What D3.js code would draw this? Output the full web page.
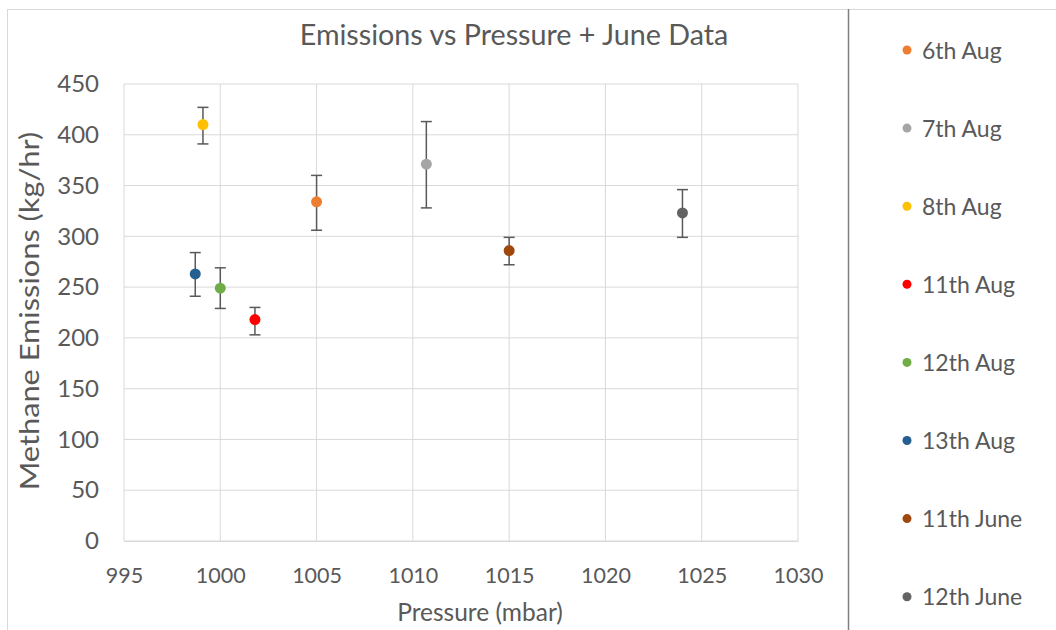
<!DOCTYPE html>
<html><head><meta charset="utf-8">
<script src="https://cdn.jsdelivr.net/npm/d3@7"></script>
<style>body{margin:0;background:#fff;}svg{display:block;font-family:Lato,"Open Sans",sans-serif;}</style>
</head><body>
<svg id="c" width="1056" height="630"></svg>
<script>
const series = ["6th Aug","7th Aug","8th Aug","11th Aug","12th Aug","13th Aug","11th June","12th June"];
const pressure = [1005.0, 1010.7, 999.1, 1001.8, 1000.0, 998.7, 1015.0, 1024.0];
const emissions = [334, 371, 410, 218, 249, 263, 286, 323];
const errHigh = [360, 413, 427, 230, 269, 284, 299, 346];
const errLow = [306, 328, 391, 203, 229, 241, 272, 299];
const colors = ["#ED7D31","#A5A5A5","#FFC000","#FF0000","#70AD47","#255E91","#9E480E","#636363"];
const xTicks = [995,1000,1005,1010,1015,1020,1025,1030];
const yTicks = [0,50,100,150,200,250,300,350,400,450];

const svg = d3.select("#c");
const L=124,R=798,T=84,B=541;
const x = d3.scaleLinear().domain([995,1030]).range([L,R]);
const y = d3.scaleLinear().domain([0,450]).range([B,T]);
const txt = "#595959";

// chart border
svg.append("rect").attr("x",7.5).attr("y",9.5).attr("width",1060).attr("height",640)
  .attr("fill","none").attr("stroke","#d9d9d9");
// legend separator
svg.append("line").attr("x1",848.5).attr("x2",848.5).attr("y1",9).attr("y2",630)
  .attr("stroke","#7f7f7f").attr("stroke-width",1.5);

// gridlines
svg.append("g").selectAll("line").data(yTicks).join("line")
  .attr("x1",L).attr("x2",R).attr("y1",d=>y(d)).attr("y2",d=>y(d))
  .attr("stroke","#d9d9d9").attr("stroke-width",1);
svg.append("g").selectAll("line").data(xTicks).join("line")
  .attr("y1",T).attr("y2",B).attr("x1",d=>x(d)).attr("x2",d=>x(d))
  .attr("stroke","#d9d9d9").attr("stroke-width",1);

// axes via d3
const xa = svg.append("g").attr("transform",`translate(0,${B})`)
  .call(d3.axisBottom(x).tickValues(xTicks).tickSize(0).tickPadding(27).tickFormat(d3.format("d")));
xa.select(".domain").attr("stroke","#d9d9d9");
xa.selectAll("text").attr("fill",txt).style("font-size","21.5px").style("font-family","Lato");
const ya = svg.append("g").attr("transform",`translate(${L},0)`)
  .call(d3.axisLeft(y).tickValues(yTicks).tickSize(0).tickPadding(25).tickFormat(d3.format("d")));
ya.select(".domain").remove();
ya.selectAll("text").attr("fill",txt).style("font-size","24px").style("font-family","Lato");

// titles
svg.append("text").attr("x",514).attr("y",45).attr("text-anchor","middle")
  .attr("fill",txt).style("font-size","28.7px").text("Emissions vs Pressure + June Data");
svg.append("text").attr("x",480).attr("y",621).attr("text-anchor","middle")
  .attr("fill",txt).style("font-size","24.5px").text("Pressure (mbar)");
svg.append("text").attr("transform",`translate(39,311) rotate(-90) scale(1.14,1)`).attr("text-anchor","middle")
  .attr("fill",txt).style("font-size","27px").text("Methane Emissions (kg/hr)");

// error bars
const idx = d3.range(series.length);
const eb = svg.append("g").attr("stroke","#595959").attr("stroke-width",1.5).attr("fill","none");
eb.selectAll(".v").data(idx).join("line")
  .attr("x1",i=>x(pressure[i])).attr("x2",i=>x(pressure[i]))
  .attr("y1",i=>y(errLow[i])).attr("y2",i=>y(errHigh[i]));
eb.selectAll(".t").data(idx).join("line")
  .attr("x1",i=>x(pressure[i])-5.5).attr("x2",i=>x(pressure[i])+5.5)
  .attr("y1",i=>y(errHigh[i])).attr("y2",i=>y(errHigh[i]));
eb.selectAll(".b").data(idx).join("line")
  .attr("x1",i=>x(pressure[i])-5.5).attr("x2",i=>x(pressure[i])+5.5)
  .attr("y1",i=>y(errLow[i])).attr("y2",i=>y(errLow[i]));

// points
svg.append("g").selectAll("circle").data(idx).join("circle")
  .attr("cx",i=>x(pressure[i])).attr("cy",i=>y(emissions[i])).attr("r",5.5)
  .attr("fill",i=>colors[i]);

// legend
const lg = svg.append("g").selectAll("g").data(idx).join("g")
  .attr("transform",i=>`translate(907,${50+i*78.1})`);
lg.append("circle").attr("r",4.5).attr("fill",i=>colors[i]);
lg.append("text").attr("x",15).attr("y",8.5).attr("fill",txt)
  .style("font-size","23px").text(i=>series[i]);
</script>
</body></html>
